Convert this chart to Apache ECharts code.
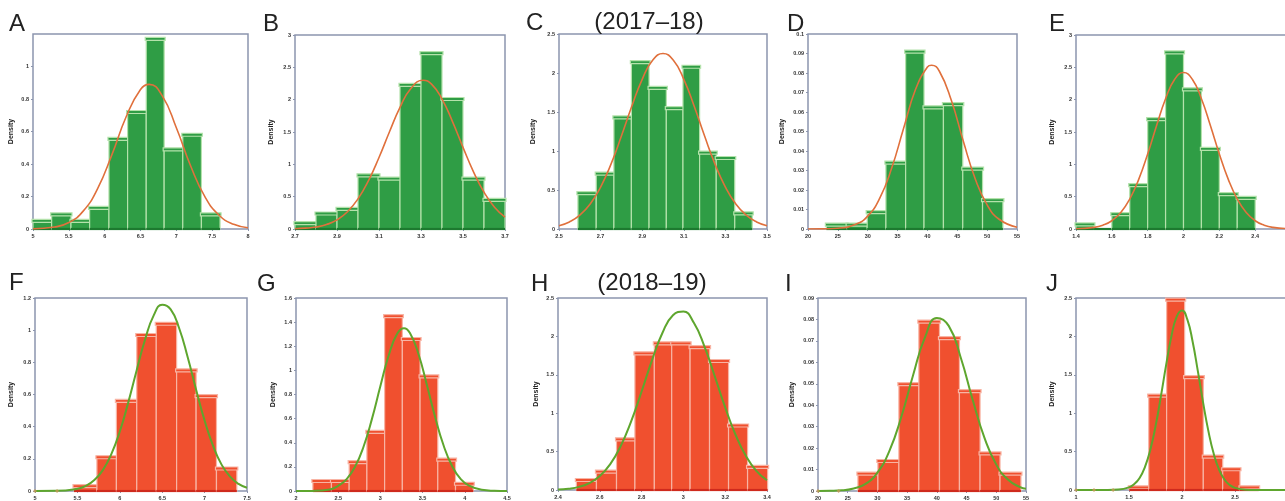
<!DOCTYPE html>
<html><head><meta charset="utf-8">
<script src="https://cdn.jsdelivr.net/npm/echarts@6/dist/echarts.min.js"></script>
<style>html,body{margin:0;padding:0;background:#fff}#c{width:1285px;height:501px}</style>
</head><body><div id="c"></div>
<script>
// ---------------- DATA ----------------
// 2017-18 (green histograms, orange fitted curves)
const aEdges = [5.0, 5.26, 5.53, 5.79, 6.06, 6.32, 6.58, 6.83, 7.09, 7.35, 7.61];
const aDensity = [0.05, 0.09, 0.05, 0.13, 0.555, 0.72, 1.17, 0.49, 0.58, 0.09];
const aCurve = [[5.0,0.001],[5.3,0.012],[5.5,0.040],[5.7,0.110],[5.9,0.247],[6.1,0.456],[6.3,0.691],[6.5,0.859],[6.62,0.89],[6.8,0.822],[7.0,0.623],[7.2,0.388],[7.4,0.198],[7.6,0.083],[7.8,0.029],[8.0,0.008]];

const bEdges = [2.7, 2.8, 2.9, 3.0, 3.1, 3.2, 3.3, 3.4, 3.5, 3.6, 3.7];
const bDensity = [0.09, 0.24, 0.31, 0.83, 0.78, 2.23, 2.72, 2.01, 0.78, 0.45];
const bCurve = [[2.70,0.005],[2.75,0.013],[2.80,0.031],[2.85,0.069],[2.90,0.141],[2.95,0.267],[3.00,0.466],[3.05,0.748],[3.10,1.106],[3.15,1.504],[3.20,1.881],[3.25,2.166],[3.31,2.30],[3.35,2.240],[3.40,2.010],[3.45,1.661],[3.50,1.263],[3.55,0.884],[3.60,0.569],[3.65,0.337],[3.70,0.184]];

const cEdges = [2.591, 2.679, 2.764, 2.848, 2.933, 3.016, 3.096, 3.176, 3.256, 3.345, 3.429];
const cDensity = [0.46, 0.71, 1.43, 2.14, 1.81, 1.55, 2.08, 0.98, 0.91, 0.20];
const cCurve = [[2.50,0.042],[2.55,0.090],[2.60,0.177],[2.65,0.321],[2.70,0.538],[2.75,0.832],[2.80,1.191],[2.85,1.573],[2.90,1.919],[2.95,2.162],[3.00,2.25],[3.05,2.162],[3.10,1.919],[3.15,1.573],[3.20,1.191],[3.25,0.832],[3.30,0.538],[3.35,0.321],[3.40,0.177],[3.45,0.090],[3.50,0.042]];

const dEdges = [23.08, 26.55, 29.91, 33.05, 36.35, 39.43, 42.68, 45.92, 49.23, 52.64];
const dDensity = [0.0022, 0.0022, 0.0087, 0.034, 0.091, 0.0624, 0.064, 0.031, 0.0148];
const dCurve = [[20,0.0000],[22,0.00004],[25,0.0004],[28,0.0024],[30,0.0066],[32,0.0157],[34,0.0311],[36,0.0515],[38,0.0715],[40,0.0831],[40.7,0.084],[42,0.0809],[44,0.0660],[46,0.0451],[48,0.0258],[50,0.0124],[52,0.0050],[55,0.0009]];

const eEdges = [1.4, 1.5, 1.6, 1.7, 1.8, 1.9, 2.0, 2.1, 2.2, 2.3, 2.4];
const eDensity = [0.07, 0, 0.23, 0.68, 1.70, 2.73, 2.16, 1.24, 0.54, 0.48];
const eCurve = [[1.40,0.003],[1.50,0.025],[1.55,0.059],[1.60,0.128],[1.65,0.255],[1.70,0.463],[1.75,0.768],[1.80,1.161],[1.85,1.601],[1.90,2.014],[1.95,2.311],[2.00,2.42],[2.05,2.311],[2.10,2.014],[2.15,1.601],[2.20,1.161],[2.25,0.768],[2.30,0.463],[2.35,0.255],[2.40,0.128],[2.45,0.059],[2.50,0.025],[2.60,0.003]];

// 2018-19 (red histograms, green fitted curves)
const fEdges = [5.46, 5.73, 5.96, 6.20, 6.43, 6.67, 6.90, 7.14, 7.38];
const fDensity = [0.03, 0.21, 0.56, 0.97, 1.04, 0.75, 0.59, 0.14];
const fCurve = [[5.0,0],[5.25,0.001],[5.5,0.014],[5.6,0.032],[5.7,0.068],[5.8,0.130],[5.9,0.229],[6.0,0.370],[6.1,0.551],[6.2,0.753],[6.3,0.945],[6.4,1.092],[6.5,1.158],[6.6,1.129],[6.7,1.012],[6.8,0.833],[6.9,0.630],[7.0,0.438],[7.1,0.280],[7.2,0.164],[7.3,0.089],[7.4,0.044],[7.5,0.020]];
const fMarks = [[5.0,0],[5.26,0]];

const gEdges = [2.20, 2.42, 2.63, 2.84, 3.05, 3.26, 3.47, 3.68, 3.89, 4.10];
const gDensity = [0.083, 0.083, 0.24, 0.49, 1.45, 1.26, 0.95, 0.26, 0.06];
const gCurve = [[2.0,0],[2.2,0.001],[2.4,0.013],[2.5,0.043],[2.6,0.098],[2.7,0.202],[2.8,0.367],[2.9,0.598],[3.0,0.870],[3.1,1.128],[3.2,1.305],[3.28,1.35],[3.35,1.309],[3.45,1.138],[3.55,0.881],[3.65,0.609],[3.75,0.375],[3.85,0.205],[3.95,0.100],[4.05,0.044],[4.2,0.010],[4.35,0.002],[4.5,0]];

const hEdges = [2.488, 2.584, 2.680, 2.768, 2.861, 2.944, 3.032, 3.125, 3.216, 3.307, 3.403];
const hDensity = [0.13, 0.24, 0.66, 1.78, 1.91, 1.91, 1.86, 1.68, 0.84, 0.30];
const hCurve = [[2.40,0.007],[2.45,0.017],[2.50,0.041],[2.55,0.090],[2.60,0.181],[2.65,0.336],[2.70,0.572],[2.75,0.894],[2.80,1.283],[2.85,1.692],[2.90,2.048],[2.95,2.276],[3.00,2.323],[3.05,2.177],[3.10,1.874],[3.15,1.481],[3.20,1.075],[3.25,0.716],[3.30,0.438],[3.35,0.246],[3.40,0.127]];

const iEdges = [26.72, 30.08, 33.61, 36.97, 40.44, 43.80, 47.27, 50.63, 54.15];
const iDensity = [0.0081, 0.014, 0.0498, 0.079, 0.0713, 0.0466, 0.0175, 0.0081];
const iCurve = [[20,0],[22,0.00007],[24,0.0003],[26,0.0012],[28,0.0033],[30,0.0086],[32,0.0186],[34,0.0344],[36,0.0540],[38,0.0716],[40,0.0807],[42,0.0770],[44,0.0624],[46,0.0428],[48,0.0249],[50,0.0123],[52,0.0052],[54,0.0018],[55,0.0010]];
const iMarks = [[20,0],[23.47,0]];

const jEdges = [1.503, 1.686, 1.855, 2.025, 2.201, 2.384, 2.547, 2.723];
const jDensity = [0.035, 1.23, 2.48, 1.47, 0.435, 0.27, 0.035];
const jCurve = [[1.0,0],[1.1,0],[1.2,0],[1.3,0],[1.4,0.005],[1.5,0.034],[1.55,0.077],[1.6,0.157],[1.65,0.299],[1.7,0.519],[1.75,0.829],[1.8,1.212],[1.85,1.626],[1.9,2.002],[1.95,2.259],[2.0,2.338],[2.05,2.221],[2.1,1.933],[2.15,1.544],[2.2,1.131],[2.25,0.760],[2.3,0.468],[2.35,0.264],[2.4,0.137],[2.45,0.066],[2.5,0.028],[2.6,0.004],[2.7,0],[2.8,0],[2.9,0],[3.0,0]];
const jMarks = [[1.0,0],[1.17,0],[1.35,0]];

// axis ranges [min, max, interval]
const aX=[5,8,0.5],   aY=[0,1.2,0.2];
const bX=[2.7,3.7,0.2], bY=[0,3,0.5];
const cX=[2.5,3.5,0.2], cY=[0,2.5,0.5];
const dX=[20,55,5],   dY=[0,0.1,0.01];
const eX=[1.4,2.6,0.2], eY=[0,3,0.5];
const fX=[5,7.5,0.5], fY=[0,1.2,0.2];
const gX=[2,4.5,0.5], gY=[0,1.6,0.2];
const hX=[2.4,3.4,0.2], hY=[0,2.5,0.5];
const iX=[20,55,5],   iY=[0,0.09,0.01];
const jX=[1,3,0.5],   jY=[0,2.5,0.5];

// ---------------- LAYOUT / STYLE ----------------
const FONT = '"Liberation Sans", Arial, sans-serif';
const TOP = {fill:'#2f9d45', pale:'#b4e2ab', base:'#1d7a2f', curve:'#e0703c'};
const BOT = {fill:'#f0502f', pale:'#f8b4a4', base:'#cf2a1d', curve:'#5ea62e'};

const panels = [
  {e:aEdges,d:aDensity,c:aCurve,x:aX,y:aY,col:TOP,g:{left:33,top:34,width:215,height:195},gap:18,hideMax:true},
  {e:bEdges,d:bDensity,c:bCurve,x:bX,y:bY,col:TOP,g:{left:295,top:35,width:210,height:194},gap:20},
  {e:cEdges,d:cDensity,c:cCurve,x:cX,y:cY,col:TOP,g:{left:559,top:34,width:208,height:195},gap:22},
  {e:dEdges,d:dDensity,c:dCurve,x:dX,y:dY,col:TOP,g:{left:808,top:34,width:209,height:195},gap:22},
  {e:eEdges,d:eDensity,c:eCurve,x:eX,y:eY,col:TOP,g:{left:1076,top:35,width:215,height:194},gap:20},
  {e:fEdges,d:fDensity,c:fCurve,m:fMarks,x:fX,y:fY,col:BOT,g:{left:35,top:298,width:212,height:193},gap:20},
  {e:gEdges,d:gDensity,c:gCurve,x:gX,y:gY,col:BOT,g:{left:296,top:298,width:211,height:193},gap:19},
  {e:hEdges,d:hDensity,c:hCurve,x:hX,y:hY,col:BOT,g:{left:558,top:298,width:209,height:192},gap:18},
  {e:iEdges,d:iDensity,c:iCurve,m:iMarks,x:iX,y:iY,col:BOT,g:{left:818,top:298,width:208,height:193},gap:22},
  {e:jEdges,d:jDensity,c:jCurve,m:jMarks,x:jX,y:jY,col:BOT,g:{left:1076,top:298,width:212,height:192},gap:20}
];

const letters = [
  ['A',9,12],['B',263,12],['C',526,11],['D',787,12],['E',1049,12],
  ['F',9,271],['G',257,272],['H',531,272],['I',785,272],['J',1046,272]
];
const headers = [['(2017–18)',649,10],['(2018–19)',652,271]];

const grids=[], xAxes=[], yAxes=[], series=[];
panels.forEach((p,i)=>{
  grids.push(Object.assign({show:true,borderColor:'#8c95ae',borderWidth:1.5,backgroundColor:'#fff',
    containLabel:false,outerBoundsMode:'none'},p.g));
  xAxes.push({type:'value',gridIndex:i,min:p.x[0],max:p.x[1],interval:p.x[2],
    axisLine:{show:false},splitLine:{show:false},
    axisTick:{show:true,length:2,lineStyle:{color:'#8c95ae'}},
    axisLabel:{fontSize:5.5,fontWeight:'bold',color:'#333',margin:4,fontFamily:FONT,hideOverlap:false}});
  yAxes.push({type:'value',gridIndex:i,min:p.y[0],max:p.y[1],interval:p.y[2],
    name:'Density',nameLocation:'middle',nameGap:p.gap,nameRotate:90,
    nameTextStyle:{fontSize:7,fontWeight:'bold',color:'#222',fontFamily:FONT},
    axisLine:{show:false},splitLine:{show:false},
    axisTick:{show:true,length:2,lineStyle:{color:'#8c95ae'}},
    axisLabel:{fontSize:5.5,fontWeight:'bold',color:'#333',margin:4,fontFamily:FONT,showMaxLabel:!p.hideMax}});
  const bars = p.d.map((h,k)=>[p.e[k],p.e[k+1],h]);
  const col = p.col;
  series.push({type:'custom',xAxisIndex:i,yAxisIndex:i,data:bars,z:2,
    renderItem:function(params,api){
      const x0=api.value(0),x1=api.value(1),h=api.value(2);
      const pt=api.coord([x0,h]), pb=api.coord([x1,0]);
      const w=pb[0]-pt[0], ht=pb[1]-pt[1];
      const ch=[];
      if(ht>0.5){
        ch.push({type:'rect',shape:{x:pt[0],y:pt[1],width:w,height:ht},style:{fill:col.fill,stroke:col.pale,lineWidth:1.2}});
        ch.push({type:'rect',shape:{x:pt[0]-1,y:pt[1]-1.5,width:w+2,height:3},style:{fill:col.fill,stroke:col.pale,lineWidth:1.2}});
      }
      ch.push({type:'line',shape:{x1:pt[0],y1:pb[1],x2:pb[0],y2:pb[1]},style:{stroke:col.base,lineWidth:2.2}});
      return {type:'group',children:ch};
    }});
  series.push({type:'line',xAxisIndex:i,yAxisIndex:i,data:p.c,smooth:true,showSymbol:false,z:3,
    lineStyle:{color:col.curve,width:p.col===TOP?1.6:2},silent:true,animation:false});
  if(p.m){
    series.push({type:'scatter',xAxisIndex:i,yAxisIndex:i,data:p.m,symbol:'diamond',symbolSize:4,z:4,
      itemStyle:{color:'#c49a55'},silent:true});
  }
});

const graphic = [];
letters.forEach(l=>graphic.push({type:'text',x:l[1],y:l[2],style:{text:l[0],font:'24px '+FONT,fill:'#222',textVerticalAlign:'top'}}));
headers.forEach(h=>graphic.push({type:'text',x:h[1],y:h[2],style:{text:h[0],font:'24px '+FONT,fill:'#222',textAlign:'center',textVerticalAlign:'top'}}));

const chart = echarts.init(document.getElementById('c'),null,{renderer:'canvas'});
chart.setOption({animation:false,grid:grids,xAxis:xAxes,yAxis:yAxes,series:series,graphic:graphic});
</script></body></html>
